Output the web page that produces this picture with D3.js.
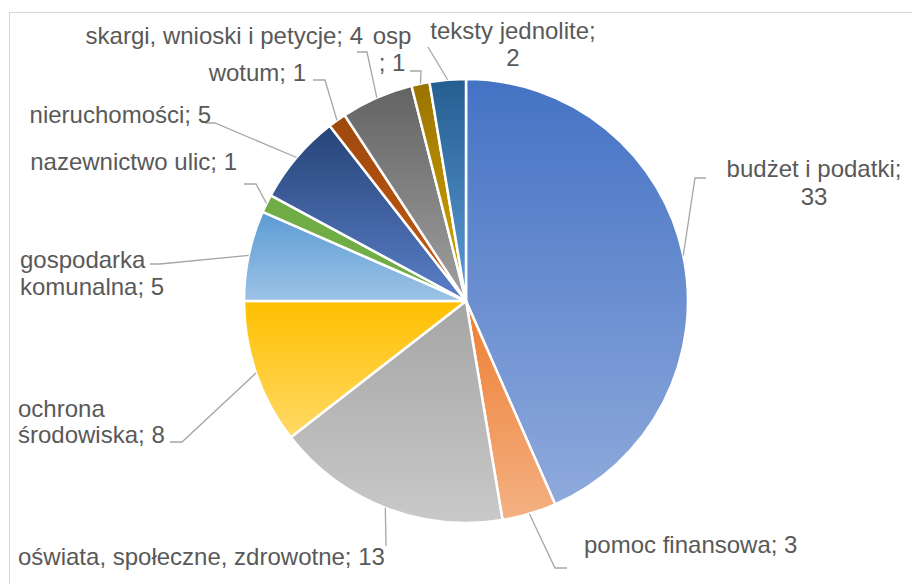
<!DOCTYPE html>
<html><head><meta charset="utf-8">
<script src="https://cdn.jsdelivr.net/npm/d3@7"></script>
<style>body{margin:0;background:#fff;}svg{display:block;}</style>
</head><body>
<script>
// ---- data ----
const categories = ["budżet i podatki","pomoc finansowa","oświata, społeczne, zdrowotne","ochrona środowiska","gospodarka komunalna","nazewnictwo ulic","nieruchomości","wotum","skargi, wnioski i petycje","osp","teksty jednolite"];
const values = [33,3,13,8,5,1,5,1,4,1,2];
const labelLines = [["budżet i podatki;","33"],["pomoc finansowa; 3"],["oświata, społeczne, zdrowotne; 13"],["ochrona","środowiska; 8"],["gospodarka","komunalna; 5"],["nazewnictwo ulic; 1"],["nieruchomości; 5"],["wotum; 1"],["skargi, wnioski i petycje; 4"],["osp","; 1"],["teksty jednolite;","2"]];
// gradient colours (top, bottom)
const colTop = ["#4472C4","#ED7D31","#A5A5A5","#FFC000","#5B9BD5","#70AD47","#264478","#9E480E","#636363","#997300","#255E91"];
const colBot = ["#8FAADC","#F4B183","#C9C9C9","#FFD966","#9DC3E6","#70AD47","#5B7FC8","#C55A11","#A0A0A0","#D6A800","#5B9BD5"];

// ---- layout ----
const W = 912, H = 584, cx = 466, cy = 301, R = 222;
const labelPos = [
  {x:814,y:177,a:"middle",lh:28, elbow:[695,178], end:[706,178]},
  {x:584,y:553,a:"start",lh:27, elbow:[555,568], end:[567,568]},
  {x:18,y:565,a:"start",lh:27, elbow:null, end:[386,546]},
  {x:18,y:417,a:"start",lh:26, elbow:[182,442], end:[170,442]},
  {x:20,y:268,a:"start",lh:27, elbow:[160,264], end:[150,264]},
  {x:237,y:170,a:"end",lh:27, elbow:[256,184], end:[244,184]},
  {x:211,y:123,a:"end",lh:27, elbow:[215,123], end:[205,123]},
  {x:306,y:81,a:"end",lh:27, elbow:[325,80], end:[313,80]},
  {x:363,y:44,a:"end",lh:27, elbow:[367,52], end:[357,52]},
  {x:392,y:44,a:"middle",lh:27, elbow:[421,71], end:[410,71]},
  {x:513,y:39,a:"middle",lh:27, elbow:null, end:[428,47]}
];

const svg = d3.select("body").append("svg").attr("width",W).attr("height",H);
svg.append("rect").attr("x",9.5).attr("y",12.5).attr("width",W+20).attr("height",H+20)
  .attr("fill","#fff").attr("stroke","#D9D9D9").attr("stroke-width",1);

const defs = svg.append("defs");
categories.forEach((c,i)=>{
  const g = defs.append("linearGradient").attr("id","g"+i).attr("x1",0).attr("y1",0).attr("x2",0).attr("y2",1);
  g.append("stop").attr("offset","0%").attr("stop-color",colTop[i]);
  g.append("stop").attr("offset","100%").attr("stop-color",colBot[i]);
});

const pie = d3.pie().sort(null).value(d=>d)(values);
const arc = d3.arc().innerRadius(0).outerRadius(R);
const gp = svg.append("g").attr("transform",`translate(${cx},${cy})`);
gp.selectAll("path").data(pie).join("path")
  .attr("d",arc).attr("fill",(d,i)=>`url(#g${i})`)
  .attr("stroke","#fff").attr("stroke-width",2.5).attr("stroke-linejoin","round");

// leader lines
pie.forEach((d,i)=>{
  const m = (d.startAngle+d.endAngle)/2;
  const p0 = [cx + R*Math.sin(m), cy - R*Math.cos(m)];
  const L = labelPos[i];
  const pts = [p0]; if (L.elbow) pts.push(L.elbow); pts.push(L.end);
  svg.append("path").attr("d", d3.line()(pts)).attr("fill","none")
    .attr("stroke","#A6A6A6").attr("stroke-width",1.3);
});

// labels
labelLines.forEach((lines,i)=>{
  const L = labelPos[i];
  const t = svg.append("text").attr("font-family","'Liberation Sans', Arial, sans-serif")
    .attr("font-size",24).attr("fill","#595959").attr("text-anchor",L.a);
  lines.forEach((s,k)=>t.append("tspan").attr("x",L.x).attr("y",L.y+k*L.lh).text(s));
});
</script>
</body></html>
